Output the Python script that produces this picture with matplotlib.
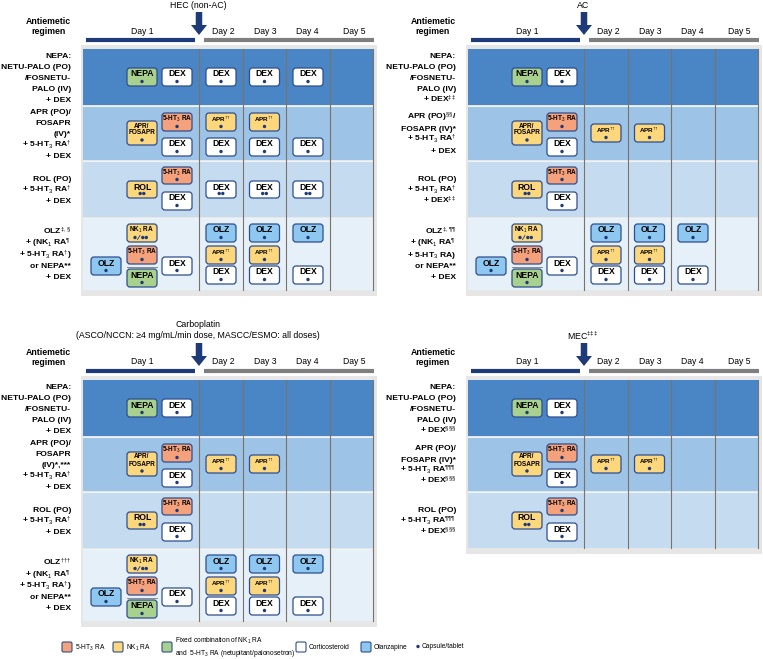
import numpy as np
import matplotlib.pyplot as plt
from matplotlib.patches import FancyBboxPatch, Rectangle, FancyArrow, Circle

plt.rcParams['font.family'] = ['Liberation Sans', 'DejaVu Sans']
plt.rcParams['mathtext.fontset'] = 'custom'
plt.rcParams['mathtext.rm'] = 'Liberation Sans'
plt.rcParams['mathtext.it'] = 'Liberation Sans:italic'
plt.rcParams['mathtext.bf'] = 'Liberation Sans:bold'

# ---- data ----
days = ['Day 1', 'Day 2', 'Day 3', 'Day 4', 'Day 5']
panel_titles = ['HEC (non-AC)', 'AC',
                'Carboplatin\n(ASCO/NCCN: \u22654 mg/mL/min dose, MASCC/ESMO: all doses)',
                'MEC$^{{\\ddagger}{\\ddagger}{\\ddagger}}$']

D1 = '{\\dagger}'
D2 = '{\\ddagger}'
NEPA_LBL = 'NEPA:\nNETU-PALO (PO)\n/FOSNETU-\nPALO (IV)\n+ DEX'
labels_hec = [NEPA_LBL,
              'APR (PO)/\nFOSAPR\n(IV)*\n+ 5-HT$_3$ RA$^{' + D1 + '}$\n+ DEX',
              'ROL (PO)\n+ 5-HT$_3$ RA$^{' + D1 + '}$\n+ DEX',
              'OLZ$^{' + D2 + ',\\S}$\n+ (NK$_1$ RA$^{\\P}$\n+ 5-HT$_3$ RA$^{' + D1 + '}$)\nor NEPA**\n+ DEX']
labels_ac = [NEPA_LBL + '$^{' + D2 + D2 + '}$',
             'APR (PO)$^{\\S\\S}$/\nFOSAPR (IV)*\n+ 5-HT$_3$ RA$^{' + D1 + '}$\n+ DEX',
             'ROL (PO)\n+ 5-HT$_3$ RA$^{' + D1 + '}$\n+ DEX$^{' + D2 + D2 + '}$',
             'OLZ$^{' + D2 + ',\\P\\P}$\n+ (NK$_1$ RA$^{\\P}$\n+ 5-HT$_3$ RA)\nor NEPA**\n+ DEX']
labels_carbo = [NEPA_LBL,
                'APR (PO)/\nFOSAPR\n(IV)*,***\n+ 5-HT$_3$ RA$^{' + D1 + '}$\n+ DEX',
                'ROL (PO)\n+ 5-HT$_3$ RA$^{' + D1 + '}$\n+ DEX',
                'OLZ$^{' + D1 + D1 + D1 + '}$\n+ (NK$_1$ RA$^{\\P}$\n+ 5-HT$_3$ RA$^{' + D1 + '}$)\nor NEPA**\n+ DEX']
labels_mec = [NEPA_LBL + '$^{\\S\\S\\S}$',
              'APR (PO)/\nFOSAPR (IV)*\n+ 5-HT$_3$ RA$^{\\P\\P\\P}$\n+ DEX$^{\\S\\S\\S}$',
              'ROL (PO)\n+ 5-HT$_3$ RA$^{\\P\\P\\P}$\n+ DEX$^{\\S\\S\\S}$']

APRD = 'APR$^{' + D1 + D1 + '}$'
HT3 = '5-HT$_3$ RA'
# pills: (column, slot, drug class, label, dots)
day1_pills = [
    ('a', 'r1', 'nepa', 'NEPA', 1), ('b', 'r1', 'cort', 'DEX', 1),
    ('a', 'r2_tall', 'nk1', 'APR/\nFOSAPR', 1), ('b', 'r2_top', 'ht3', HT3, 1), ('b', 'r2_bot', 'cort', 'DEX', 1),
    ('a', 'r3_mid', 'nk1', 'ROL', 2), ('b', 'r3_top', 'ht3', HT3, 1), ('b', 'r3_bot', 'cort', 'DEX', 1),
    ('a', 'r4_1', 'nk1', 'NK$_1$ RA', 'nk'), ('a', 'r4_2', 'ht3', HT3, 1), ('a', 'r4_3', 'nepa', 'NEPA', 1),
    ('pre', 'r4_mid', 'olz', 'OLZ', 1), ('b', 'r4_mid', 'cort', 'DEX', 1),
]
olz_later = [
    ('d2', 'r4_1', 'olz', 'OLZ', 1), ('d3', 'r4_1', 'olz', 'OLZ', 1), ('d4', 'r4_1', 'olz', 'OLZ', 1),
    ('d2', 'r4_2', 'nk1', APRD, 1), ('d3', 'r4_2', 'nk1', APRD, 1),
    ('d2', 'r4_3d', 'cort', 'DEX', 1), ('d3', 'r4_3d', 'cort', 'DEX', 1), ('d4', 'r4_3d', 'cort', 'DEX', 1),
]
hec_later = [
    ('d2', 'r1', 'cort', 'DEX', 1), ('d3', 'r1', 'cort', 'DEX', 1), ('d4', 'r1', 'cort', 'DEX', 1),
    ('d2', 'r2_top', 'nk1', APRD, 1), ('d3', 'r2_top', 'nk1', APRD, 1),
    ('d2', 'r2_bot', 'cort', 'DEX', 1), ('d3', 'r2_bot', 'cort', 'DEX', 1), ('d4', 'r2_bot', 'cort', 'DEX', 1),
    ('d2', 'r3_mid', 'cort', 'DEX', 2), ('d3', 'r3_mid', 'cort', 'DEX', 2), ('d4', 'r3_mid', 'cort', 'DEX', 2),
] + olz_later
apr_only_later = [('d2', 'r2_mid', 'nk1', APRD, 1), ('d3', 'r2_mid', 'nk1', APRD, 1)]

panels = [
    (panel_titles[0], labels_hec, day1_pills + hec_later, 4),
    (panel_titles[1], labels_ac, day1_pills + apr_only_later + olz_later, 4),
    (panel_titles[2], labels_carbo, day1_pills + apr_only_later + olz_later, 4),
    (panel_titles[3], labels_mec, [p for p in day1_pills if not p[1].startswith('r4')] + apr_only_later, 3),
]

legend_items = [('ht3', '5-HT$_3$ RA'), ('nk1', 'NK$_1$ RA'),
                ('nepa', 'Fixed combination of NK$_1$ RA\nand  5-HT$_3$ RA (netupitant/palonosetron)'),
                ('cort', 'Corticosteroid'), ('olz', 'Olanzapine')]

# ---- styles / layout ----
NAVY = '#1f3a78'
EDGE = '#2f4e8e'
FILL = {'ht3': '#f5a27c', 'nk1': '#fdd77c', 'nepa': '#a9d18e', 'cort': 'white', 'olz': '#8ec8f0'}
ROW_COLORS = ['#4a86c6', '#9dc3e6', '#c5dcf0', '#e6f0f9']
ROW_SPANS = [(49, 105), (106, 160), (161, 217), (218, 290)]
COL_X = {'pre': 106, 'a': 142, 'b': 177, 'd2': 221, 'd3': 264.5, 'd4': 308}
SLOT = {'r1': (68, 18),
        'r2_top': (113, 18), 'r2_bot': (138, 18), 'r2_tall': (121, 24), 'r2_mid': (124, 18),
        'r3_top': (167, 17), 'r3_mid': (181, 17), 'r3_bot': (192, 18),
        'r4_1': (224, 18), 'r4_2': (246, 18), 'r4_3': (269, 18), 'r4_mid': (257, 18), 'r4_3d': (266, 18)}
VLINES = [199, 243, 286, 330, 373]
DAY_X = [142, 223, 265, 307, 354]
ORIGINS = [(0, 0), (385, 0), (0, 331), (385, 331)]
LINE_PITCH = 11.1


def dot(ax, x, y):
    ax.add_patch(Circle((x, y), 1.7, color=NAVY, lw=0, zorder=5))


def pill(ax, cx, top, h, kind, text, dots):
    w = 30
    ax.add_patch(FancyBboxPatch((cx - w / 2, top), w, h, boxstyle='round,pad=0,rounding_size=3',
                                fc=FILL[kind], ec=EDGE, lw=0.9, zorder=4))
    if text in ('DEX', 'NEPA', 'OLZ', 'ROL'):
        fs = 6.2
    elif text.startswith('APR$'):
        fs = 4.6
    else:
        fs = 4.7
    if h > 20:
        ty, dy = top + 8.5, top + 19
    else:
        ty, dy = top + 6.0, top + h - 4.5
    ax.text(cx, ty, text, ha='center', va='center', fontsize=fs, fontweight='bold',
            linespacing=1.0, zorder=6)
    if dots == 1:
        dot(ax, cx, dy)
    elif dots == 2:
        dot(ax, cx - 1.8, dy)
        dot(ax, cx + 1.8, dy)
    elif dots == 'nk':
        dot(ax, cx - 7, dy)
        ax.plot([cx - 4.5, cx - 2], [dy + 2, dy - 2], color=NAVY, lw=0.6, zorder=5)
        dot(ax, cx + 0.8, dy)
        dot(ax, cx + 4.3, dy)


def row_label(ax, x, yc, text):
    lines = text.split('\n')
    n = len(lines)
    for i, line in enumerate(lines):
        yb = yc + (i - (n - 1) / 2) * LINE_PITCH + 3.1
        ax.text(x, yb, line, ha='right', va='baseline', fontsize=6.1, fontweight='bold')


fig = plt.figure(figsize=(7.63, 6.59), dpi=100)
ax = fig.add_axes([0, 0, 1, 1])
ax.set_xlim(0, 763)
ax.set_ylim(659, 0)
ax.axis('off')

for (ox, oy), (title, row_labels, pills, n_rows) in zip(ORIGINS, panels):
    # title and arrow
    ax.text(ox + 198, oy + 5 if '\n' not in title else oy - 1, title, ha='center', va='center',
            fontsize=6.3, linespacing=1.15)
    ax.add_patch(FancyArrow(ox + 199, oy + 12, 0, 23, width=6.5, head_width=16, head_length=10,
                            length_includes_head=True, color=NAVY, lw=0))
    ax.text(ox + 48, oy + 26.5, 'Antiemetic\nregimen', ha='center', va='center', fontsize=6.3,
            fontweight='bold', linespacing=1.2)
    for dx, d in zip(DAY_X, days):
        ax.text(ox + dx, oy + 31, d, ha='center', va='center', fontsize=6.2)
    ax.plot([ox + 86, ox + 195], [oy + 40, oy + 40], color=NAVY, lw=3, solid_capstyle='butt')
    ax.plot([ox + 204, ox + 374], [oy + 40, oy + 40], color='#7f7f7f', lw=3, solid_capstyle='butt')

    bottom = ROW_SPANS[n_rows - 1][1]
    ax.add_patch(Rectangle((ox + 81, oy + 45), 296, bottom + 6 - 45, fc='#e6e6e6', lw=0, zorder=0))
    for i in range(n_rows):
        y0, y1 = ROW_SPANS[i]
        ax.add_patch(Rectangle((ox + 83, oy + y0), 290, y1 - y0, fc=ROW_COLORS[i], lw=0, zorder=1))
        if i > 0:
            ax.plot([ox + 83, ox + 373], [oy + y0 - 0.5] * 2, color='#eef3f8', lw=0.8, zorder=1.5)
        row_label(ax, ox + 71, oy + (y0 + y1) / 2, row_labels[i])
    for vx in VLINES:
        ax.plot([ox + vx, ox + vx], [oy + 49, oy + bottom], color='#7d7268', lw=0.8, zorder=2)

    for col, slot, kind, text, dots in pills:
        top, h = SLOT[slot]
        pill(ax, ox + COL_X[col], oy + top, h, kind, text, dots)
        if slot == 'r4_2' and col == 'a':
            ax.plot([ox + 127, ox + 157], [oy + 266.5] * 2, color='#8a8a8a', lw=0.7, zorder=3)

# legend
leg_x = [62, 113, 162, 296, 361]
for lx, (kind, txt) in zip(leg_x, legend_items):
    ax.add_patch(FancyBboxPatch((lx, 642), 10, 10, boxstyle='round,pad=0,rounding_size=1.5',
                                fc=FILL[kind], ec=EDGE, lw=0.8))
    ax.text(lx + 13, 647.5, txt, ha='left', va='center', fontsize=4.8, linespacing=1.3)
dot(ax, 418, 646.5)
ax.text(422, 646.5, 'Capsule/tablet', ha='left', va='center', fontsize=4.8)

fig.savefig('out.png', dpi=100)
